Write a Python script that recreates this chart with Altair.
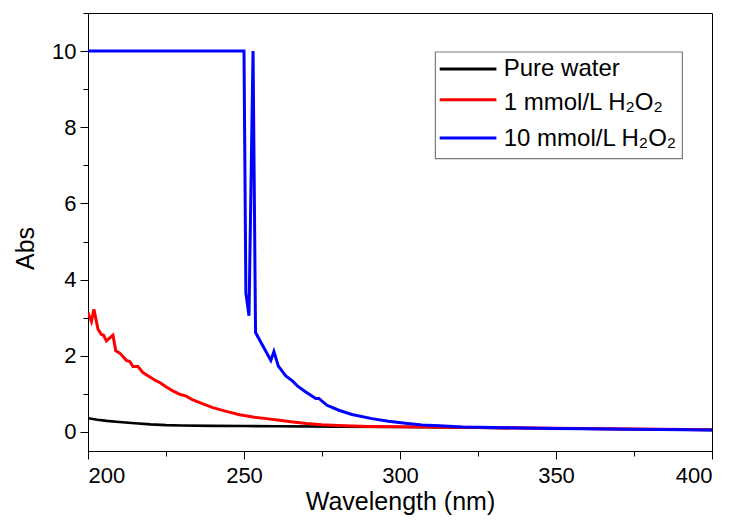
import altair as alt
import pandas as pd

series_names = ["Pure water", "1 mmol/L H₂O₂", "10 mmol/L H₂O₂"]
series_colors = ["#000000", "#ff0000", "#0000ff"]

water_wl = [200, 203, 206, 210, 215, 220, 225, 230, 240, 250, 260, 280, 300, 325, 350, 375, 400]
water_abs = [0.36, 0.32, 0.29, 0.26, 0.23, 0.20, 0.18, 0.17, 0.16, 0.155, 0.15, 0.14, 0.13, 0.11, 0.09, 0.07, 0.05]

red_wl = [200.0, 201.1, 201.9, 203.2, 204.3, 205.0, 205.9, 208.0, 208.9, 210.2, 212.3, 213.4,
          214.4, 216.0, 217.6, 218.7, 221.9, 223.0, 225.1, 227.2, 229.4, 231.5, 233.6, 235.8,
          240.0, 244.3, 248.6, 252.9, 257.2, 261.4, 265, 270, 275, 280, 290, 300, 325, 350, 375, 400]
red_abs = [3.13, 2.90, 3.22, 2.70, 2.56, 2.54, 2.39, 2.54, 2.13, 2.07, 1.88, 1.85,
           1.72, 1.72, 1.56, 1.50, 1.34, 1.30, 1.18, 1.08, 0.99, 0.94, 0.84, 0.77,
           0.64, 0.54, 0.45, 0.39, 0.35, 0.31, 0.27, 0.22, 0.19, 0.17, 0.145, 0.135, 0.115, 0.095, 0.075, 0.055]

blue_wl = [200, 250.0, 250.6, 251.6, 252.9, 253.7, 258.6, 259.6, 261.0, 263.4, 265.5, 267.1,
           269.8, 273.0, 274.0, 276.6, 280.4, 284.6, 291.0, 296.3, 301.7, 307.0, 312.8, 320,
           330, 350, 375, 400]
blue_abs = [10, 10, 3.65, 3.05, 10, 2.61, 1.88, 2.11, 1.73, 1.47, 1.34, 1.21,
            1.05, 0.88, 0.88, 0.70, 0.57, 0.46, 0.35, 0.28, 0.23, 0.18, 0.16, 0.13,
            0.115, 0.09, 0.07, 0.05]

x_major = [200, 250, 300, 350, 400]
x_minor = [225, 275, 325, 375]
y_major = [0, 2, 4, 6, 8, 10]
y_minor = [1, 3, 5, 7, 9, 11]

def frame(name, wl, ab):
    return pd.DataFrame({"series": name, "wl": wl, "abs": ab, "idx": list(range(len(wl)))})

dfs = [frame(series_names[0], water_wl, water_abs),
       frame(series_names[1], red_wl, red_abs),
       frame(series_names[2], blue_wl, blue_abs)]

FONT = "Liberation Sans"
xscale = alt.Scale(domain=[200, 400], nice=False, zero=False)
yscale = alt.Scale(domain=[-0.5, 11], nice=False, zero=False)
color = alt.Color("series:N", scale=alt.Scale(domain=series_names, range=series_colors), legend=None)

main_x = alt.Axis(values=x_major, tickSize=8, labelFontSize=22, labelBaseline="alphabetic",
                  labelPadding=23, title="Wavelength (nm)", titleFontSize=25,
                  titleBaseline="alphabetic", titleY=58, grid=False, orient="bottom")
main_y = alt.Axis(values=y_major, tickSize=8, labelFontSize=22, title="Abs",
                  titleFontSize=25, labelPadding=4, titlePadding=13, titleY=235, grid=False, orient="left")
minor_x = alt.Axis(values=x_minor, tickSize=5, labels=False, title="", domain=False, grid=False, orient="bottom")
minor_y = alt.Axis(values=y_minor, tickSize=5, labels=False, title="", domain=False, grid=False, orient="left")

layers = []
for i, d in enumerate(dfs):
    if i == 0:
        xa, ya = main_x, main_y
    elif i == 1:
        xa, ya = minor_x, minor_y
    else:
        xa, ya = None, None
    layers.append(
        alt.Chart(d).mark_line(strokeWidth=2.6 if i == 0 else 3, clip=True).encode(
            x=alt.X("wl:Q", scale=xscale, axis=xa),
            y=alt.Y("abs:Q", scale=yscale, axis=ya),
            color=color,
            order="idx:Q",
        )
    )

# legend, drawn by hand (box, line samples, labels)
legend_box = alt.Chart(pd.DataFrame({"k": [0]})).mark_rect(
    fill="white", stroke="#7a7a7a", strokeWidth=1.2
).encode(x=alt.value(347.4), x2=alt.value(594.4), y=alt.value(39), y2=alt.value(145.7))
layers.append(legend_box)

line_y = [56, 86.7, 125]
text_y = [63.4, 96.7, 133.4]
for i, name in enumerate(series_names):
    one = pd.DataFrame({"series": [name]})
    layers.append(
        alt.Chart(one).mark_rule(strokeWidth=3, color=series_colors[i]).encode(
            x=alt.value(351.7), x2=alt.value(408.4), y=alt.value(line_y[i])
        )
    )
    layers.append(
        alt.Chart(one).mark_text(align="left", baseline="alphabetic", fontSize=24, font=FONT,
                                 color="black").encode(
            x=alt.value(415.7), y=alt.value(text_y[i]), text="series:N"
        )
    )

chart = alt.layer(*layers).resolve_axis(x="independent", y="independent").properties(
    width=624, height=438,
    autosize=alt.AutoSizeParams(type="none"),
    padding={"left": 80, "top": 5, "right": 17, "bottom": 64},
).configure_view(stroke="black", strokeWidth=1).configure_axis(
    labelFont=FONT, titleFont=FONT, titleFontWeight="normal", labelColor="black",
    titleColor="black", domainColor="black", tickColor="black", domainWidth=1, tickWidth=1,
)

chart.save("out.html", embed_options={"renderer": "svg", "actions": False})
